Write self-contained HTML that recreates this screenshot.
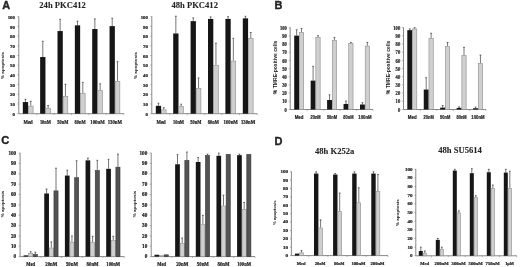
<!DOCTYPE html>
<html><head><meta charset="utf-8"><title>Figure</title>
<style>
html,body{margin:0;padding:0;background:#fff;}
body{width:520px;height:267px;overflow:hidden;font-family:"Liberation Sans",sans-serif;}
svg{display:block;}
</style></head><body>
<svg width="520" height="267" viewBox="0 0 520 267"><defs><filter id="bl" x="0" y="0" width="520" height="267" filterUnits="userSpaceOnUse"><feGaussianBlur stdDeviation="0.35"/></filter></defs><rect width="520" height="267" fill="#fff"/><g filter="url(#bl)"><rect width="520" height="267" fill="#fff"/><line x1="18.8" y1="16.4" x2="18.8" y2="113.7" stroke="#7a7a7a" stroke-width="0.9"/>
<line x1="17.4" y1="113.7" x2="18.8" y2="113.7" stroke="#7a7a7a" stroke-width="0.6"/>
<text x="14.9" y="115.83" font-size="4.8" text-anchor="end" font-weight="bold" font-family="Liberation Serif" fill="#222"  stroke="#222" stroke-width="0.22">0</text>
<line x1="17.4" y1="104" x2="18.8" y2="104" stroke="#7a7a7a" stroke-width="0.6"/>
<text x="14.9" y="106.13" font-size="4.8" text-anchor="end" font-weight="bold" font-family="Liberation Serif" fill="#222"  stroke="#222" stroke-width="0.22">10</text>
<line x1="17.4" y1="94.3" x2="18.8" y2="94.3" stroke="#7a7a7a" stroke-width="0.6"/>
<text x="14.9" y="96.43" font-size="4.8" text-anchor="end" font-weight="bold" font-family="Liberation Serif" fill="#222"  stroke="#222" stroke-width="0.22">20</text>
<line x1="17.4" y1="84.6" x2="18.8" y2="84.6" stroke="#7a7a7a" stroke-width="0.6"/>
<text x="14.9" y="86.73" font-size="4.8" text-anchor="end" font-weight="bold" font-family="Liberation Serif" fill="#222"  stroke="#222" stroke-width="0.22">30</text>
<line x1="17.4" y1="74.9" x2="18.8" y2="74.9" stroke="#7a7a7a" stroke-width="0.6"/>
<text x="14.9" y="77.03" font-size="4.8" text-anchor="end" font-weight="bold" font-family="Liberation Serif" fill="#222"  stroke="#222" stroke-width="0.22">40</text>
<line x1="17.4" y1="65.2" x2="18.8" y2="65.2" stroke="#7a7a7a" stroke-width="0.6"/>
<text x="14.9" y="67.33" font-size="4.8" text-anchor="end" font-weight="bold" font-family="Liberation Serif" fill="#222"  stroke="#222" stroke-width="0.22">50</text>
<line x1="17.4" y1="55.5" x2="18.8" y2="55.5" stroke="#7a7a7a" stroke-width="0.6"/>
<text x="14.9" y="57.63" font-size="4.8" text-anchor="end" font-weight="bold" font-family="Liberation Serif" fill="#222"  stroke="#222" stroke-width="0.22">60</text>
<line x1="17.4" y1="45.8" x2="18.8" y2="45.8" stroke="#7a7a7a" stroke-width="0.6"/>
<text x="14.9" y="47.93" font-size="4.8" text-anchor="end" font-weight="bold" font-family="Liberation Serif" fill="#222"  stroke="#222" stroke-width="0.22">70</text>
<line x1="17.4" y1="36.1" x2="18.8" y2="36.1" stroke="#7a7a7a" stroke-width="0.6"/>
<text x="14.9" y="38.23" font-size="4.8" text-anchor="end" font-weight="bold" font-family="Liberation Serif" fill="#222"  stroke="#222" stroke-width="0.22">80</text>
<line x1="17.4" y1="26.4" x2="18.8" y2="26.4" stroke="#7a7a7a" stroke-width="0.6"/>
<text x="14.9" y="28.53" font-size="4.8" text-anchor="end" font-weight="bold" font-family="Liberation Serif" fill="#222"  stroke="#222" stroke-width="0.22">90</text>
<line x1="17.4" y1="16.7" x2="18.8" y2="16.7" stroke="#7a7a7a" stroke-width="0.6"/>
<text x="14.9" y="18.83" font-size="4.8" text-anchor="end" font-weight="bold" font-family="Liberation Serif" fill="#222"  stroke="#222" stroke-width="0.22">100</text>
<line x1="18.8" y1="113.7" x2="123.9" y2="113.7" stroke="#7a7a7a" stroke-width="0.9"/>
<line x1="25.45" y1="99.34" x2="25.45" y2="102.06" stroke="#4a4a4a" stroke-width="0.75"/>
<line x1="24.55" y1="99.34" x2="26.35" y2="99.34" stroke="#333" stroke-width="0.7"/>
<rect x="22.8" y="102.06" width="5.3" height="11.64" fill="#141414"/>
<line x1="30.75" y1="101.28" x2="30.75" y2="105.84" stroke="#4a4a4a" stroke-width="0.75"/>
<line x1="29.85" y1="101.28" x2="31.65" y2="101.28" stroke="#333" stroke-width="0.7"/>
<rect x="28.4" y="106.14" width="4.7" height="7.56" fill="#cfcfcf" stroke="#8c8c8c" stroke-width="0.6"/>
<line x1="42.8" y1="41.34" x2="42.8" y2="57.05" stroke="#4a4a4a" stroke-width="0.75"/>
<line x1="41.9" y1="41.34" x2="43.7" y2="41.34" stroke="#333" stroke-width="0.7"/>
<rect x="40.15" y="57.05" width="5.3" height="56.65" fill="#141414"/>
<line x1="48.1" y1="105.55" x2="48.1" y2="108.07" stroke="#4a4a4a" stroke-width="0.75"/>
<line x1="47.2" y1="105.55" x2="49" y2="105.55" stroke="#333" stroke-width="0.7"/>
<rect x="45.75" y="108.37" width="4.7" height="5.33" fill="#cfcfcf" stroke="#8c8c8c" stroke-width="0.6"/>
<line x1="60.15" y1="19.32" x2="60.15" y2="31.06" stroke="#4a4a4a" stroke-width="0.75"/>
<line x1="59.25" y1="19.32" x2="61.05" y2="19.32" stroke="#333" stroke-width="0.7"/>
<rect x="57.5" y="31.06" width="5.3" height="82.64" fill="#141414"/>
<line x1="65.45" y1="84.21" x2="65.45" y2="96.05" stroke="#4a4a4a" stroke-width="0.75"/>
<line x1="64.55" y1="84.21" x2="66.35" y2="84.21" stroke="#333" stroke-width="0.7"/>
<rect x="63.1" y="96.35" width="4.7" height="17.35" fill="#cfcfcf" stroke="#8c8c8c" stroke-width="0.6"/>
<line x1="77.5" y1="21.16" x2="77.5" y2="25.33" stroke="#4a4a4a" stroke-width="0.75"/>
<line x1="76.6" y1="21.16" x2="78.4" y2="21.16" stroke="#333" stroke-width="0.7"/>
<rect x="74.85" y="25.33" width="5.3" height="88.37" fill="#141414"/>
<line x1="82.8" y1="82.37" x2="82.8" y2="92.94" stroke="#4a4a4a" stroke-width="0.75"/>
<line x1="81.9" y1="82.37" x2="83.7" y2="82.37" stroke="#333" stroke-width="0.7"/>
<rect x="80.45" y="93.24" width="4.7" height="20.46" fill="#cfcfcf" stroke="#8c8c8c" stroke-width="0.6"/>
<line x1="94.85" y1="18.93" x2="94.85" y2="29.02" stroke="#4a4a4a" stroke-width="0.75"/>
<line x1="93.95" y1="18.93" x2="95.75" y2="18.93" stroke="#333" stroke-width="0.7"/>
<rect x="92.2" y="29.02" width="5.3" height="84.68" fill="#141414"/>
<line x1="100.15" y1="83.82" x2="100.15" y2="90.03" stroke="#4a4a4a" stroke-width="0.75"/>
<line x1="99.25" y1="83.82" x2="101.05" y2="83.82" stroke="#333" stroke-width="0.7"/>
<rect x="97.8" y="90.33" width="4.7" height="23.37" fill="#cfcfcf" stroke="#8c8c8c" stroke-width="0.6"/>
<line x1="112.2" y1="18.25" x2="112.2" y2="26.11" stroke="#4a4a4a" stroke-width="0.75"/>
<line x1="111.3" y1="18.25" x2="113.1" y2="18.25" stroke="#333" stroke-width="0.7"/>
<rect x="109.55" y="26.11" width="5.3" height="87.59" fill="#141414"/>
<line x1="117.5" y1="61.71" x2="117.5" y2="81.01" stroke="#4a4a4a" stroke-width="0.75"/>
<line x1="116.6" y1="61.71" x2="118.4" y2="61.71" stroke="#333" stroke-width="0.7"/>
<rect x="115.15" y="81.31" width="4.7" height="32.39" fill="#cfcfcf" stroke="#8c8c8c" stroke-width="0.6"/>
<line x1="36.77" y1="113.7" x2="36.77" y2="115.2" stroke="#7a7a7a" stroke-width="0.5"/>
<line x1="54.13" y1="113.7" x2="54.13" y2="115.2" stroke="#7a7a7a" stroke-width="0.5"/>
<line x1="71.47" y1="113.7" x2="71.47" y2="115.2" stroke="#7a7a7a" stroke-width="0.5"/>
<line x1="88.83" y1="113.7" x2="88.83" y2="115.2" stroke="#7a7a7a" stroke-width="0.5"/>
<line x1="106.17" y1="113.7" x2="106.17" y2="115.2" stroke="#7a7a7a" stroke-width="0.5"/>
<line x1="123.9" y1="113.7" x2="123.9" y2="115.2" stroke="#7a7a7a" stroke-width="0.5"/>
<text x="28.1" y="123.5" font-size="5.6" text-anchor="middle" font-weight="bold" font-family="Liberation Serif" fill="#222"  textLength="9.2" lengthAdjust="spacingAndGlyphs" stroke="#222" stroke-width="0.22">Med</text>
<text x="45.45" y="123.5" font-size="5.6" text-anchor="middle" font-weight="bold" font-family="Liberation Serif" fill="#222"  textLength="11.1" lengthAdjust="spacingAndGlyphs" stroke="#222" stroke-width="0.22">10nM</text>
<text x="62.8" y="123.5" font-size="5.6" text-anchor="middle" font-weight="bold" font-family="Liberation Serif" fill="#222"  textLength="11.1" lengthAdjust="spacingAndGlyphs" stroke="#222" stroke-width="0.22">50nM</text>
<text x="80.15" y="123.5" font-size="5.6" text-anchor="middle" font-weight="bold" font-family="Liberation Serif" fill="#222"  textLength="11.1" lengthAdjust="spacingAndGlyphs" stroke="#222" stroke-width="0.22">80nM</text>
<text x="97.5" y="123.5" font-size="5.6" text-anchor="middle" font-weight="bold" font-family="Liberation Serif" fill="#222"  textLength="14.4" lengthAdjust="spacingAndGlyphs" stroke="#222" stroke-width="0.22">100nM</text>
<text x="114.85" y="123.5" font-size="5.6" text-anchor="middle" font-weight="bold" font-family="Liberation Serif" fill="#222"  textLength="14.4" lengthAdjust="spacingAndGlyphs" stroke="#222" stroke-width="0.22">130nM</text>
<text x="0" y="0" font-size="4.4" text-anchor="middle" font-weight="bold" font-family="Liberation Sans" fill="#1a1a1a" textLength="27" lengthAdjust="spacingAndGlyphs" transform="translate(4.2,65.5) rotate(-90)">% apoptosis</text>
<line x1="151.8" y1="16.4" x2="151.8" y2="113.7" stroke="#7a7a7a" stroke-width="0.9"/>
<line x1="150.4" y1="113.7" x2="151.8" y2="113.7" stroke="#7a7a7a" stroke-width="0.6"/>
<text x="147.9" y="115.83" font-size="4.8" text-anchor="end" font-weight="bold" font-family="Liberation Serif" fill="#222"  stroke="#222" stroke-width="0.22">0</text>
<line x1="150.4" y1="104" x2="151.8" y2="104" stroke="#7a7a7a" stroke-width="0.6"/>
<text x="147.9" y="106.13" font-size="4.8" text-anchor="end" font-weight="bold" font-family="Liberation Serif" fill="#222"  stroke="#222" stroke-width="0.22">10</text>
<line x1="150.4" y1="94.3" x2="151.8" y2="94.3" stroke="#7a7a7a" stroke-width="0.6"/>
<text x="147.9" y="96.43" font-size="4.8" text-anchor="end" font-weight="bold" font-family="Liberation Serif" fill="#222"  stroke="#222" stroke-width="0.22">20</text>
<line x1="150.4" y1="84.6" x2="151.8" y2="84.6" stroke="#7a7a7a" stroke-width="0.6"/>
<text x="147.9" y="86.73" font-size="4.8" text-anchor="end" font-weight="bold" font-family="Liberation Serif" fill="#222"  stroke="#222" stroke-width="0.22">30</text>
<line x1="150.4" y1="74.9" x2="151.8" y2="74.9" stroke="#7a7a7a" stroke-width="0.6"/>
<text x="147.9" y="77.03" font-size="4.8" text-anchor="end" font-weight="bold" font-family="Liberation Serif" fill="#222"  stroke="#222" stroke-width="0.22">40</text>
<line x1="150.4" y1="65.2" x2="151.8" y2="65.2" stroke="#7a7a7a" stroke-width="0.6"/>
<text x="147.9" y="67.33" font-size="4.8" text-anchor="end" font-weight="bold" font-family="Liberation Serif" fill="#222"  stroke="#222" stroke-width="0.22">50</text>
<line x1="150.4" y1="55.5" x2="151.8" y2="55.5" stroke="#7a7a7a" stroke-width="0.6"/>
<text x="147.9" y="57.63" font-size="4.8" text-anchor="end" font-weight="bold" font-family="Liberation Serif" fill="#222"  stroke="#222" stroke-width="0.22">60</text>
<line x1="150.4" y1="45.8" x2="151.8" y2="45.8" stroke="#7a7a7a" stroke-width="0.6"/>
<text x="147.9" y="47.93" font-size="4.8" text-anchor="end" font-weight="bold" font-family="Liberation Serif" fill="#222"  stroke="#222" stroke-width="0.22">70</text>
<line x1="150.4" y1="36.1" x2="151.8" y2="36.1" stroke="#7a7a7a" stroke-width="0.6"/>
<text x="147.9" y="38.23" font-size="4.8" text-anchor="end" font-weight="bold" font-family="Liberation Serif" fill="#222"  stroke="#222" stroke-width="0.22">80</text>
<line x1="150.4" y1="26.4" x2="151.8" y2="26.4" stroke="#7a7a7a" stroke-width="0.6"/>
<text x="147.9" y="28.53" font-size="4.8" text-anchor="end" font-weight="bold" font-family="Liberation Serif" fill="#222"  stroke="#222" stroke-width="0.22">90</text>
<line x1="150.4" y1="16.7" x2="151.8" y2="16.7" stroke="#7a7a7a" stroke-width="0.6"/>
<text x="147.9" y="18.83" font-size="4.8" text-anchor="end" font-weight="bold" font-family="Liberation Serif" fill="#222"  stroke="#222" stroke-width="0.22">100</text>
<line x1="151.8" y1="113.7" x2="257.3" y2="113.7" stroke="#7a7a7a" stroke-width="0.9"/>
<line x1="158.45" y1="103.22" x2="158.45" y2="105.84" stroke="#4a4a4a" stroke-width="0.75"/>
<line x1="157.55" y1="103.22" x2="159.35" y2="103.22" stroke="#333" stroke-width="0.7"/>
<rect x="155.8" y="105.84" width="5.3" height="7.86" fill="#141414"/>
<line x1="163.75" y1="107.69" x2="163.75" y2="109.53" stroke="#4a4a4a" stroke-width="0.75"/>
<line x1="162.85" y1="107.69" x2="164.65" y2="107.69" stroke="#333" stroke-width="0.7"/>
<rect x="161.4" y="109.83" width="4.7" height="3.87" fill="#cfcfcf" stroke="#8c8c8c" stroke-width="0.6"/>
<line x1="175.85" y1="16.22" x2="175.85" y2="33.48" stroke="#4a4a4a" stroke-width="0.75"/>
<line x1="174.95" y1="16.22" x2="176.75" y2="16.22" stroke="#333" stroke-width="0.7"/>
<rect x="173.2" y="33.48" width="5.3" height="80.22" fill="#141414"/>
<line x1="181.15" y1="104.19" x2="181.15" y2="106.23" stroke="#4a4a4a" stroke-width="0.75"/>
<line x1="180.25" y1="104.19" x2="182.05" y2="104.19" stroke="#333" stroke-width="0.7"/>
<rect x="178.8" y="106.53" width="4.7" height="7.17" fill="#cfcfcf" stroke="#8c8c8c" stroke-width="0.6"/>
<line x1="193.25" y1="17.86" x2="193.25" y2="21.16" stroke="#4a4a4a" stroke-width="0.75"/>
<line x1="192.35" y1="17.86" x2="194.15" y2="17.86" stroke="#333" stroke-width="0.7"/>
<rect x="190.6" y="21.16" width="5.3" height="92.54" fill="#141414"/>
<line x1="198.55" y1="77.91" x2="198.55" y2="88.19" stroke="#4a4a4a" stroke-width="0.75"/>
<line x1="197.65" y1="77.91" x2="199.45" y2="77.91" stroke="#333" stroke-width="0.7"/>
<rect x="196.2" y="88.49" width="4.7" height="25.21" fill="#cfcfcf" stroke="#8c8c8c" stroke-width="0.6"/>
<line x1="210.65" y1="16.89" x2="210.65" y2="18.93" stroke="#4a4a4a" stroke-width="0.75"/>
<line x1="209.75" y1="16.89" x2="211.55" y2="16.89" stroke="#333" stroke-width="0.7"/>
<rect x="208" y="18.93" width="5.3" height="94.77" fill="#141414"/>
<line x1="215.95" y1="43.18" x2="215.95" y2="65.2" stroke="#4a4a4a" stroke-width="0.75"/>
<line x1="215.05" y1="43.18" x2="216.85" y2="43.18" stroke="#333" stroke-width="0.7"/>
<rect x="213.6" y="65.5" width="4.7" height="48.2" fill="#cfcfcf" stroke="#8c8c8c" stroke-width="0.6"/>
<line x1="228.05" y1="16.7" x2="228.05" y2="18.93" stroke="#4a4a4a" stroke-width="0.75"/>
<line x1="227.15" y1="16.7" x2="228.95" y2="16.7" stroke="#333" stroke-width="0.7"/>
<rect x="225.4" y="18.93" width="5.3" height="94.77" fill="#141414"/>
<line x1="233.35" y1="38.33" x2="233.35" y2="60.74" stroke="#4a4a4a" stroke-width="0.75"/>
<line x1="232.45" y1="38.33" x2="234.25" y2="38.33" stroke="#333" stroke-width="0.7"/>
<rect x="231" y="61.04" width="4.7" height="52.66" fill="#cfcfcf" stroke="#8c8c8c" stroke-width="0.6"/>
<line x1="245.45" y1="16.31" x2="245.45" y2="18.35" stroke="#4a4a4a" stroke-width="0.75"/>
<line x1="244.55" y1="16.31" x2="246.35" y2="16.31" stroke="#333" stroke-width="0.7"/>
<rect x="242.8" y="18.35" width="5.3" height="95.35" fill="#141414"/>
<line x1="250.75" y1="32.51" x2="250.75" y2="38.33" stroke="#4a4a4a" stroke-width="0.75"/>
<line x1="249.85" y1="32.51" x2="251.65" y2="32.51" stroke="#333" stroke-width="0.7"/>
<rect x="248.4" y="38.63" width="4.7" height="75.07" fill="#cfcfcf" stroke="#8c8c8c" stroke-width="0.6"/>
<line x1="169.8" y1="113.7" x2="169.8" y2="115.2" stroke="#7a7a7a" stroke-width="0.5"/>
<line x1="187.2" y1="113.7" x2="187.2" y2="115.2" stroke="#7a7a7a" stroke-width="0.5"/>
<line x1="204.6" y1="113.7" x2="204.6" y2="115.2" stroke="#7a7a7a" stroke-width="0.5"/>
<line x1="222" y1="113.7" x2="222" y2="115.2" stroke="#7a7a7a" stroke-width="0.5"/>
<line x1="239.4" y1="113.7" x2="239.4" y2="115.2" stroke="#7a7a7a" stroke-width="0.5"/>
<line x1="257.3" y1="113.7" x2="257.3" y2="115.2" stroke="#7a7a7a" stroke-width="0.5"/>
<text x="161.1" y="123.5" font-size="5.6" text-anchor="middle" font-weight="bold" font-family="Liberation Serif" fill="#222"  textLength="9.2" lengthAdjust="spacingAndGlyphs" stroke="#222" stroke-width="0.22">Med</text>
<text x="178.5" y="123.5" font-size="5.6" text-anchor="middle" font-weight="bold" font-family="Liberation Serif" fill="#222"  textLength="11.1" lengthAdjust="spacingAndGlyphs" stroke="#222" stroke-width="0.22">10nM</text>
<text x="195.9" y="123.5" font-size="5.6" text-anchor="middle" font-weight="bold" font-family="Liberation Serif" fill="#222"  textLength="11.1" lengthAdjust="spacingAndGlyphs" stroke="#222" stroke-width="0.22">50nM</text>
<text x="213.3" y="123.5" font-size="5.6" text-anchor="middle" font-weight="bold" font-family="Liberation Serif" fill="#222"  textLength="11.1" lengthAdjust="spacingAndGlyphs" stroke="#222" stroke-width="0.22">80nM</text>
<text x="230.7" y="123.5" font-size="5.6" text-anchor="middle" font-weight="bold" font-family="Liberation Serif" fill="#222"  textLength="14.4" lengthAdjust="spacingAndGlyphs" stroke="#222" stroke-width="0.22">100nM</text>
<text x="248.1" y="123.5" font-size="5.6" text-anchor="middle" font-weight="bold" font-family="Liberation Serif" fill="#222"  textLength="14.4" lengthAdjust="spacingAndGlyphs" stroke="#222" stroke-width="0.22">130nM</text>
<text x="0" y="0" font-size="4.4" text-anchor="middle" font-weight="bold" font-family="Liberation Sans" fill="#1a1a1a" textLength="27" lengthAdjust="spacingAndGlyphs" transform="translate(137,65.5) rotate(-90)">% apoptosis</text>
<line x1="290.2" y1="27.4" x2="290.2" y2="109.5" stroke="#7a7a7a" stroke-width="0.9"/>
<line x1="288.8" y1="109.5" x2="290.2" y2="109.5" stroke="#7a7a7a" stroke-width="0.6"/>
<g transform="translate(286.9,111.6) scale(0.82,1)">
<text x="0" y="0" font-size="5.6" text-anchor="end" font-weight="bold" font-family="Liberation Serif" fill="#222"  stroke="#222" stroke-width="0.22">0</text>
</g>
<line x1="288.8" y1="101.32" x2="290.2" y2="101.32" stroke="#7a7a7a" stroke-width="0.6"/>
<g transform="translate(286.9,103.42) scale(0.82,1)">
<text x="0" y="0" font-size="5.6" text-anchor="end" font-weight="bold" font-family="Liberation Serif" fill="#222"  stroke="#222" stroke-width="0.22">10</text>
</g>
<line x1="288.8" y1="93.14" x2="290.2" y2="93.14" stroke="#7a7a7a" stroke-width="0.6"/>
<g transform="translate(286.9,95.24) scale(0.82,1)">
<text x="0" y="0" font-size="5.6" text-anchor="end" font-weight="bold" font-family="Liberation Serif" fill="#222"  stroke="#222" stroke-width="0.22">20</text>
</g>
<line x1="288.8" y1="84.96" x2="290.2" y2="84.96" stroke="#7a7a7a" stroke-width="0.6"/>
<g transform="translate(286.9,87.06) scale(0.82,1)">
<text x="0" y="0" font-size="5.6" text-anchor="end" font-weight="bold" font-family="Liberation Serif" fill="#222"  stroke="#222" stroke-width="0.22">30</text>
</g>
<line x1="288.8" y1="76.78" x2="290.2" y2="76.78" stroke="#7a7a7a" stroke-width="0.6"/>
<g transform="translate(286.9,78.88) scale(0.82,1)">
<text x="0" y="0" font-size="5.6" text-anchor="end" font-weight="bold" font-family="Liberation Serif" fill="#222"  stroke="#222" stroke-width="0.22">40</text>
</g>
<line x1="288.8" y1="68.6" x2="290.2" y2="68.6" stroke="#7a7a7a" stroke-width="0.6"/>
<g transform="translate(286.9,70.7) scale(0.82,1)">
<text x="0" y="0" font-size="5.6" text-anchor="end" font-weight="bold" font-family="Liberation Serif" fill="#222"  stroke="#222" stroke-width="0.22">50</text>
</g>
<line x1="288.8" y1="60.42" x2="290.2" y2="60.42" stroke="#7a7a7a" stroke-width="0.6"/>
<g transform="translate(286.9,62.52) scale(0.82,1)">
<text x="0" y="0" font-size="5.6" text-anchor="end" font-weight="bold" font-family="Liberation Serif" fill="#222"  stroke="#222" stroke-width="0.22">60</text>
</g>
<line x1="288.8" y1="52.24" x2="290.2" y2="52.24" stroke="#7a7a7a" stroke-width="0.6"/>
<g transform="translate(286.9,54.34) scale(0.82,1)">
<text x="0" y="0" font-size="5.6" text-anchor="end" font-weight="bold" font-family="Liberation Serif" fill="#222"  stroke="#222" stroke-width="0.22">70</text>
</g>
<line x1="288.8" y1="44.06" x2="290.2" y2="44.06" stroke="#7a7a7a" stroke-width="0.6"/>
<g transform="translate(286.9,46.16) scale(0.82,1)">
<text x="0" y="0" font-size="5.6" text-anchor="end" font-weight="bold" font-family="Liberation Serif" fill="#222"  stroke="#222" stroke-width="0.22">80</text>
</g>
<line x1="288.8" y1="35.88" x2="290.2" y2="35.88" stroke="#7a7a7a" stroke-width="0.6"/>
<g transform="translate(286.9,37.98) scale(0.82,1)">
<text x="0" y="0" font-size="5.6" text-anchor="end" font-weight="bold" font-family="Liberation Serif" fill="#222"  stroke="#222" stroke-width="0.22">90</text>
</g>
<line x1="288.8" y1="27.7" x2="290.2" y2="27.7" stroke="#7a7a7a" stroke-width="0.6"/>
<g transform="translate(286.9,29.8) scale(0.82,1)">
<text x="0" y="0" font-size="5.6" text-anchor="end" font-weight="bold" font-family="Liberation Serif" fill="#222"  stroke="#222" stroke-width="0.22">100</text>
</g>
<line x1="290.2" y1="109.5" x2="373" y2="109.5" stroke="#7a7a7a" stroke-width="0.9"/>
<line x1="296.65" y1="29.83" x2="296.65" y2="35.63" stroke="#4a4a4a" stroke-width="0.75"/>
<line x1="295.75" y1="29.83" x2="297.55" y2="29.83" stroke="#333" stroke-width="0.7"/>
<rect x="294.2" y="35.63" width="4.9" height="73.87" fill="#141414"/>
<line x1="301.55" y1="28.52" x2="301.55" y2="32.12" stroke="#4a4a4a" stroke-width="0.75"/>
<line x1="300.65" y1="28.52" x2="302.45" y2="28.52" stroke="#333" stroke-width="0.7"/>
<rect x="299.4" y="32.42" width="4.3" height="77.08" fill="#cfcfcf" stroke="#8c8c8c" stroke-width="0.6"/>
<line x1="313.1" y1="66.31" x2="313.1" y2="80.62" stroke="#4a4a4a" stroke-width="0.75"/>
<line x1="312.2" y1="66.31" x2="314" y2="66.31" stroke="#333" stroke-width="0.7"/>
<rect x="310.65" y="80.62" width="4.9" height="28.88" fill="#141414"/>
<line x1="318" y1="35.63" x2="318" y2="37.19" stroke="#4a4a4a" stroke-width="0.75"/>
<line x1="317.1" y1="35.63" x2="318.9" y2="35.63" stroke="#333" stroke-width="0.7"/>
<rect x="315.85" y="37.49" width="4.3" height="72.01" fill="#cfcfcf" stroke="#8c8c8c" stroke-width="0.6"/>
<line x1="329.55" y1="94.78" x2="329.55" y2="100.01" stroke="#4a4a4a" stroke-width="0.75"/>
<line x1="328.65" y1="94.78" x2="330.45" y2="94.78" stroke="#333" stroke-width="0.7"/>
<rect x="327.1" y="100.01" width="4.9" height="9.49" fill="#141414"/>
<line x1="334.45" y1="37.6" x2="334.45" y2="40.13" stroke="#4a4a4a" stroke-width="0.75"/>
<line x1="333.55" y1="37.6" x2="335.35" y2="37.6" stroke="#333" stroke-width="0.7"/>
<rect x="332.3" y="40.43" width="4.3" height="69.07" fill="#cfcfcf" stroke="#8c8c8c" stroke-width="0.6"/>
<line x1="346" y1="100.99" x2="346" y2="103.94" stroke="#4a4a4a" stroke-width="0.75"/>
<line x1="345.1" y1="100.99" x2="346.9" y2="100.99" stroke="#333" stroke-width="0.7"/>
<rect x="343.55" y="103.94" width="4.9" height="5.56" fill="#141414"/>
<line x1="350.9" y1="42.42" x2="350.9" y2="43" stroke="#4a4a4a" stroke-width="0.75"/>
<line x1="350" y1="42.42" x2="351.8" y2="42.42" stroke="#333" stroke-width="0.7"/>
<rect x="348.75" y="43.3" width="4.3" height="66.2" fill="#cfcfcf" stroke="#8c8c8c" stroke-width="0.6"/>
<line x1="362.45" y1="102.63" x2="362.45" y2="104.51" stroke="#4a4a4a" stroke-width="0.75"/>
<line x1="361.55" y1="102.63" x2="363.35" y2="102.63" stroke="#333" stroke-width="0.7"/>
<rect x="360" y="104.51" width="4.9" height="4.99" fill="#141414"/>
<line x1="367.35" y1="42.42" x2="367.35" y2="45.78" stroke="#4a4a4a" stroke-width="0.75"/>
<line x1="366.45" y1="42.42" x2="368.25" y2="42.42" stroke="#333" stroke-width="0.7"/>
<rect x="365.2" y="46.08" width="4.3" height="63.42" fill="#cfcfcf" stroke="#8c8c8c" stroke-width="0.6"/>
<line x1="307.32" y1="109.5" x2="307.32" y2="111" stroke="#7a7a7a" stroke-width="0.5"/>
<line x1="323.77" y1="109.5" x2="323.77" y2="111" stroke="#7a7a7a" stroke-width="0.5"/>
<line x1="340.22" y1="109.5" x2="340.22" y2="111" stroke="#7a7a7a" stroke-width="0.5"/>
<line x1="356.67" y1="109.5" x2="356.67" y2="111" stroke="#7a7a7a" stroke-width="0.5"/>
<line x1="373" y1="109.5" x2="373" y2="111" stroke="#7a7a7a" stroke-width="0.5"/>
<text x="299.1" y="118.7" font-size="5.4" text-anchor="middle" font-weight="bold" font-family="Liberation Sans" fill="#222"  textLength="8.8" lengthAdjust="spacingAndGlyphs" stroke="#222" stroke-width="0.22">Med</text>
<text x="315.55" y="118.7" font-size="5.4" text-anchor="middle" font-weight="bold" font-family="Liberation Sans" fill="#222"  textLength="10.2" lengthAdjust="spacingAndGlyphs" stroke="#222" stroke-width="0.22">20nM</text>
<text x="332" y="118.7" font-size="5.4" text-anchor="middle" font-weight="bold" font-family="Liberation Sans" fill="#222"  textLength="10.2" lengthAdjust="spacingAndGlyphs" stroke="#222" stroke-width="0.22">50nM</text>
<text x="348.45" y="118.7" font-size="5.4" text-anchor="middle" font-weight="bold" font-family="Liberation Sans" fill="#222"  textLength="10.2" lengthAdjust="spacingAndGlyphs" stroke="#222" stroke-width="0.22">80nM</text>
<text x="364.9" y="118.7" font-size="5.4" text-anchor="middle" font-weight="bold" font-family="Liberation Sans" fill="#222"  textLength="13.3" lengthAdjust="spacingAndGlyphs" stroke="#222" stroke-width="0.22">100nM</text>
<text x="0" y="0" font-size="4.6" text-anchor="middle" font-weight="bold" font-family="Liberation Sans" fill="#1a1a1a" textLength="53.5" lengthAdjust="spacingAndGlyphs" transform="translate(276.6,67.4) rotate(-90)">% TMRE-positive cells</text>
<line x1="403.5" y1="27.4" x2="403.5" y2="109.5" stroke="#7a7a7a" stroke-width="0.9"/>
<line x1="402.1" y1="109.5" x2="403.5" y2="109.5" stroke="#7a7a7a" stroke-width="0.6"/>
<g transform="translate(400.2,111.6) scale(0.82,1)">
<text x="0" y="0" font-size="5.6" text-anchor="end" font-weight="bold" font-family="Liberation Serif" fill="#222"  stroke="#222" stroke-width="0.22">0</text>
</g>
<line x1="402.1" y1="101.32" x2="403.5" y2="101.32" stroke="#7a7a7a" stroke-width="0.6"/>
<g transform="translate(400.2,103.42) scale(0.82,1)">
<text x="0" y="0" font-size="5.6" text-anchor="end" font-weight="bold" font-family="Liberation Serif" fill="#222"  stroke="#222" stroke-width="0.22">10</text>
</g>
<line x1="402.1" y1="93.14" x2="403.5" y2="93.14" stroke="#7a7a7a" stroke-width="0.6"/>
<g transform="translate(400.2,95.24) scale(0.82,1)">
<text x="0" y="0" font-size="5.6" text-anchor="end" font-weight="bold" font-family="Liberation Serif" fill="#222"  stroke="#222" stroke-width="0.22">20</text>
</g>
<line x1="402.1" y1="84.96" x2="403.5" y2="84.96" stroke="#7a7a7a" stroke-width="0.6"/>
<g transform="translate(400.2,87.06) scale(0.82,1)">
<text x="0" y="0" font-size="5.6" text-anchor="end" font-weight="bold" font-family="Liberation Serif" fill="#222"  stroke="#222" stroke-width="0.22">30</text>
</g>
<line x1="402.1" y1="76.78" x2="403.5" y2="76.78" stroke="#7a7a7a" stroke-width="0.6"/>
<g transform="translate(400.2,78.88) scale(0.82,1)">
<text x="0" y="0" font-size="5.6" text-anchor="end" font-weight="bold" font-family="Liberation Serif" fill="#222"  stroke="#222" stroke-width="0.22">40</text>
</g>
<line x1="402.1" y1="68.6" x2="403.5" y2="68.6" stroke="#7a7a7a" stroke-width="0.6"/>
<g transform="translate(400.2,70.7) scale(0.82,1)">
<text x="0" y="0" font-size="5.6" text-anchor="end" font-weight="bold" font-family="Liberation Serif" fill="#222"  stroke="#222" stroke-width="0.22">50</text>
</g>
<line x1="402.1" y1="60.42" x2="403.5" y2="60.42" stroke="#7a7a7a" stroke-width="0.6"/>
<g transform="translate(400.2,62.52) scale(0.82,1)">
<text x="0" y="0" font-size="5.6" text-anchor="end" font-weight="bold" font-family="Liberation Serif" fill="#222"  stroke="#222" stroke-width="0.22">60</text>
</g>
<line x1="402.1" y1="52.24" x2="403.5" y2="52.24" stroke="#7a7a7a" stroke-width="0.6"/>
<g transform="translate(400.2,54.34) scale(0.82,1)">
<text x="0" y="0" font-size="5.6" text-anchor="end" font-weight="bold" font-family="Liberation Serif" fill="#222"  stroke="#222" stroke-width="0.22">70</text>
</g>
<line x1="402.1" y1="44.06" x2="403.5" y2="44.06" stroke="#7a7a7a" stroke-width="0.6"/>
<g transform="translate(400.2,46.16) scale(0.82,1)">
<text x="0" y="0" font-size="5.6" text-anchor="end" font-weight="bold" font-family="Liberation Serif" fill="#222"  stroke="#222" stroke-width="0.22">80</text>
</g>
<line x1="402.1" y1="35.88" x2="403.5" y2="35.88" stroke="#7a7a7a" stroke-width="0.6"/>
<g transform="translate(400.2,37.98) scale(0.82,1)">
<text x="0" y="0" font-size="5.6" text-anchor="end" font-weight="bold" font-family="Liberation Serif" fill="#222"  stroke="#222" stroke-width="0.22">90</text>
</g>
<line x1="402.1" y1="27.7" x2="403.5" y2="27.7" stroke="#7a7a7a" stroke-width="0.6"/>
<g transform="translate(400.2,29.8) scale(0.82,1)">
<text x="0" y="0" font-size="5.6" text-anchor="end" font-weight="bold" font-family="Liberation Serif" fill="#222"  stroke="#222" stroke-width="0.22">100</text>
</g>
<line x1="403.5" y1="109.5" x2="486" y2="109.5" stroke="#7a7a7a" stroke-width="0.9"/>
<line x1="409.75" y1="28.93" x2="409.75" y2="30.15" stroke="#4a4a4a" stroke-width="0.75"/>
<line x1="408.85" y1="28.93" x2="410.65" y2="28.93" stroke="#333" stroke-width="0.7"/>
<rect x="407.3" y="30.15" width="4.9" height="79.35" fill="#141414"/>
<line x1="414.65" y1="27.7" x2="414.65" y2="28.6" stroke="#4a4a4a" stroke-width="0.75"/>
<line x1="413.75" y1="27.7" x2="415.55" y2="27.7" stroke="#333" stroke-width="0.7"/>
<rect x="412.5" y="28.9" width="4.3" height="80.6" fill="#cfcfcf" stroke="#8c8c8c" stroke-width="0.6"/>
<line x1="426.2" y1="77.76" x2="426.2" y2="89.54" stroke="#4a4a4a" stroke-width="0.75"/>
<line x1="425.3" y1="77.76" x2="427.1" y2="77.76" stroke="#333" stroke-width="0.7"/>
<rect x="423.75" y="89.54" width="4.9" height="19.96" fill="#141414"/>
<line x1="431.1" y1="33.26" x2="431.1" y2="38.01" stroke="#4a4a4a" stroke-width="0.75"/>
<line x1="430.2" y1="33.26" x2="432" y2="33.26" stroke="#333" stroke-width="0.7"/>
<rect x="428.95" y="38.31" width="4.3" height="71.19" fill="#cfcfcf" stroke="#8c8c8c" stroke-width="0.6"/>
<line x1="442.65" y1="105.57" x2="442.65" y2="107.62" stroke="#4a4a4a" stroke-width="0.75"/>
<line x1="441.75" y1="105.57" x2="443.55" y2="105.57" stroke="#333" stroke-width="0.7"/>
<rect x="440.2" y="107.62" width="4.9" height="1.88" fill="#141414"/>
<line x1="447.55" y1="42.42" x2="447.55" y2="46.27" stroke="#4a4a4a" stroke-width="0.75"/>
<line x1="446.65" y1="42.42" x2="448.45" y2="42.42" stroke="#333" stroke-width="0.7"/>
<rect x="445.4" y="46.57" width="4.3" height="62.93" fill="#cfcfcf" stroke="#8c8c8c" stroke-width="0.6"/>
<line x1="459.1" y1="106.88" x2="459.1" y2="107.86" stroke="#4a4a4a" stroke-width="0.75"/>
<line x1="458.2" y1="106.88" x2="460" y2="106.88" stroke="#333" stroke-width="0.7"/>
<rect x="456.65" y="107.86" width="4.9" height="1.64" fill="#141414"/>
<line x1="464" y1="47.33" x2="464" y2="55.1" stroke="#4a4a4a" stroke-width="0.75"/>
<line x1="463.1" y1="47.33" x2="464.9" y2="47.33" stroke="#333" stroke-width="0.7"/>
<rect x="461.85" y="55.4" width="4.3" height="54.1" fill="#cfcfcf" stroke="#8c8c8c" stroke-width="0.6"/>
<line x1="475.55" y1="107.05" x2="475.55" y2="108.27" stroke="#4a4a4a" stroke-width="0.75"/>
<line x1="474.65" y1="107.05" x2="476.45" y2="107.05" stroke="#333" stroke-width="0.7"/>
<rect x="473.1" y="108.27" width="4.9" height="1.23" fill="#141414"/>
<line x1="480.45" y1="55.1" x2="480.45" y2="63.28" stroke="#4a4a4a" stroke-width="0.75"/>
<line x1="479.55" y1="55.1" x2="481.35" y2="55.1" stroke="#333" stroke-width="0.7"/>
<rect x="478.3" y="63.58" width="4.3" height="45.92" fill="#cfcfcf" stroke="#8c8c8c" stroke-width="0.6"/>
<line x1="420.43" y1="109.5" x2="420.43" y2="111" stroke="#7a7a7a" stroke-width="0.5"/>
<line x1="436.88" y1="109.5" x2="436.88" y2="111" stroke="#7a7a7a" stroke-width="0.5"/>
<line x1="453.32" y1="109.5" x2="453.32" y2="111" stroke="#7a7a7a" stroke-width="0.5"/>
<line x1="469.77" y1="109.5" x2="469.77" y2="111" stroke="#7a7a7a" stroke-width="0.5"/>
<line x1="486" y1="109.5" x2="486" y2="111" stroke="#7a7a7a" stroke-width="0.5"/>
<text x="412.2" y="118.7" font-size="5.4" text-anchor="middle" font-weight="bold" font-family="Liberation Sans" fill="#222"  textLength="8.8" lengthAdjust="spacingAndGlyphs" stroke="#222" stroke-width="0.22">Med</text>
<text x="428.65" y="118.7" font-size="5.4" text-anchor="middle" font-weight="bold" font-family="Liberation Sans" fill="#222"  textLength="10.2" lengthAdjust="spacingAndGlyphs" stroke="#222" stroke-width="0.22">20nM</text>
<text x="445.1" y="118.7" font-size="5.4" text-anchor="middle" font-weight="bold" font-family="Liberation Sans" fill="#222"  textLength="10.2" lengthAdjust="spacingAndGlyphs" stroke="#222" stroke-width="0.22">50nM</text>
<text x="461.55" y="118.7" font-size="5.4" text-anchor="middle" font-weight="bold" font-family="Liberation Sans" fill="#222"  textLength="10.2" lengthAdjust="spacingAndGlyphs" stroke="#222" stroke-width="0.22">80nM</text>
<text x="478" y="118.7" font-size="5.4" text-anchor="middle" font-weight="bold" font-family="Liberation Sans" fill="#222"  textLength="13.3" lengthAdjust="spacingAndGlyphs" stroke="#222" stroke-width="0.22">100nM</text>
<text x="0" y="0" font-size="4.6" text-anchor="middle" font-weight="bold" font-family="Liberation Sans" fill="#1a1a1a" textLength="53.5" lengthAdjust="spacingAndGlyphs" transform="translate(390.3,67.4) rotate(-90)">% TMRE-positive cells</text>
<line x1="20.1" y1="152.8" x2="20.1" y2="256.6" stroke="#7a7a7a" stroke-width="0.9"/>
<line x1="18.7" y1="256.6" x2="20.1" y2="256.6" stroke="#7a7a7a" stroke-width="0.6"/>
<text x="16.2" y="258.27" font-size="5.2" text-anchor="end" font-weight="bold" font-family="Liberation Serif" fill="#222"  stroke="#222" stroke-width="0.22">0</text>
<line x1="18.7" y1="246.25" x2="20.1" y2="246.25" stroke="#7a7a7a" stroke-width="0.6"/>
<text x="16.2" y="247.92" font-size="5.2" text-anchor="end" font-weight="bold" font-family="Liberation Serif" fill="#222"  stroke="#222" stroke-width="0.22">10</text>
<line x1="18.7" y1="235.9" x2="20.1" y2="235.9" stroke="#7a7a7a" stroke-width="0.6"/>
<text x="16.2" y="237.57" font-size="5.2" text-anchor="end" font-weight="bold" font-family="Liberation Serif" fill="#222"  stroke="#222" stroke-width="0.22">20</text>
<line x1="18.7" y1="225.55" x2="20.1" y2="225.55" stroke="#7a7a7a" stroke-width="0.6"/>
<text x="16.2" y="227.22" font-size="5.2" text-anchor="end" font-weight="bold" font-family="Liberation Serif" fill="#222"  stroke="#222" stroke-width="0.22">30</text>
<line x1="18.7" y1="215.2" x2="20.1" y2="215.2" stroke="#7a7a7a" stroke-width="0.6"/>
<text x="16.2" y="216.87" font-size="5.2" text-anchor="end" font-weight="bold" font-family="Liberation Serif" fill="#222"  stroke="#222" stroke-width="0.22">40</text>
<line x1="18.7" y1="204.85" x2="20.1" y2="204.85" stroke="#7a7a7a" stroke-width="0.6"/>
<text x="16.2" y="206.52" font-size="5.2" text-anchor="end" font-weight="bold" font-family="Liberation Serif" fill="#222"  stroke="#222" stroke-width="0.22">50</text>
<line x1="18.7" y1="194.5" x2="20.1" y2="194.5" stroke="#7a7a7a" stroke-width="0.6"/>
<text x="16.2" y="196.17" font-size="5.2" text-anchor="end" font-weight="bold" font-family="Liberation Serif" fill="#222"  stroke="#222" stroke-width="0.22">60</text>
<line x1="18.7" y1="184.15" x2="20.1" y2="184.15" stroke="#7a7a7a" stroke-width="0.6"/>
<text x="16.2" y="185.82" font-size="5.2" text-anchor="end" font-weight="bold" font-family="Liberation Serif" fill="#222"  stroke="#222" stroke-width="0.22">70</text>
<line x1="18.7" y1="173.8" x2="20.1" y2="173.8" stroke="#7a7a7a" stroke-width="0.6"/>
<text x="16.2" y="175.47" font-size="5.2" text-anchor="end" font-weight="bold" font-family="Liberation Serif" fill="#222"  stroke="#222" stroke-width="0.22">80</text>
<line x1="18.7" y1="163.45" x2="20.1" y2="163.45" stroke="#7a7a7a" stroke-width="0.6"/>
<text x="16.2" y="165.12" font-size="5.2" text-anchor="end" font-weight="bold" font-family="Liberation Serif" fill="#222"  stroke="#222" stroke-width="0.22">90</text>
<line x1="18.7" y1="153.1" x2="20.1" y2="153.1" stroke="#7a7a7a" stroke-width="0.6"/>
<text x="16.2" y="154.77" font-size="5.2" text-anchor="end" font-weight="bold" font-family="Liberation Serif" fill="#222"  stroke="#222" stroke-width="0.22">100</text>
<line x1="20.1" y1="256.6" x2="124.3" y2="256.6" stroke="#7a7a7a" stroke-width="0.9"/>
<rect x="23.6" y="255.36" width="4.7" height="1.24" fill="#141414"/>
<line x1="30.65" y1="251.74" x2="30.65" y2="253.08" stroke="#4a4a4a" stroke-width="0.75"/>
<line x1="29.75" y1="251.74" x2="31.55" y2="251.74" stroke="#333" stroke-width="0.7"/>
<rect x="28.6" y="253.38" width="4.1" height="3.22" fill="#cfcfcf" stroke="#8c8c8c" stroke-width="0.6"/>
<line x1="35.35" y1="252.15" x2="35.35" y2="254.22" stroke="#4a4a4a" stroke-width="0.75"/>
<line x1="34.45" y1="252.15" x2="36.25" y2="252.15" stroke="#333" stroke-width="0.7"/>
<rect x="33.3" y="254.52" width="4.1" height="2.08" fill="#525252" stroke="#353535" stroke-width="0.6"/>
<line x1="46.6" y1="189.01" x2="46.6" y2="193.47" stroke="#4a4a4a" stroke-width="0.75"/>
<line x1="45.7" y1="189.01" x2="47.5" y2="189.01" stroke="#333" stroke-width="0.7"/>
<rect x="44.25" y="193.47" width="4.7" height="63.13" fill="#141414"/>
<line x1="51.3" y1="241.9" x2="51.3" y2="247.7" stroke="#4a4a4a" stroke-width="0.75"/>
<line x1="50.4" y1="241.9" x2="52.2" y2="241.9" stroke="#333" stroke-width="0.7"/>
<rect x="49.25" y="248" width="4.1" height="8.6" fill="#cfcfcf" stroke="#8c8c8c" stroke-width="0.6"/>
<line x1="56" y1="168.21" x2="56" y2="190.57" stroke="#4a4a4a" stroke-width="0.75"/>
<line x1="55.1" y1="168.21" x2="56.9" y2="168.21" stroke="#333" stroke-width="0.7"/>
<rect x="53.95" y="190.87" width="4.1" height="65.73" fill="#525252" stroke="#353535" stroke-width="0.6"/>
<line x1="67.25" y1="170.18" x2="67.25" y2="175.56" stroke="#4a4a4a" stroke-width="0.75"/>
<line x1="66.35" y1="170.18" x2="68.15" y2="170.18" stroke="#333" stroke-width="0.7"/>
<rect x="64.9" y="175.56" width="4.7" height="81.04" fill="#141414"/>
<line x1="71.95" y1="236" x2="71.95" y2="241.9" stroke="#4a4a4a" stroke-width="0.75"/>
<line x1="71.05" y1="236" x2="72.85" y2="236" stroke="#333" stroke-width="0.7"/>
<rect x="69.9" y="242.2" width="4.1" height="14.4" fill="#cfcfcf" stroke="#8c8c8c" stroke-width="0.6"/>
<line x1="76.65" y1="160.76" x2="76.65" y2="177.42" stroke="#4a4a4a" stroke-width="0.75"/>
<line x1="75.75" y1="160.76" x2="77.55" y2="160.76" stroke="#333" stroke-width="0.7"/>
<rect x="74.6" y="177.72" width="4.1" height="78.88" fill="#525252" stroke="#353535" stroke-width="0.6"/>
<line x1="87.9" y1="158.07" x2="87.9" y2="160.35" stroke="#4a4a4a" stroke-width="0.75"/>
<line x1="87" y1="158.07" x2="88.8" y2="158.07" stroke="#333" stroke-width="0.7"/>
<rect x="85.55" y="160.35" width="4.7" height="96.25" fill="#141414"/>
<line x1="92.6" y1="236.31" x2="92.6" y2="242.11" stroke="#4a4a4a" stroke-width="0.75"/>
<line x1="91.7" y1="236.31" x2="93.5" y2="236.31" stroke="#333" stroke-width="0.7"/>
<rect x="90.55" y="242.41" width="4.1" height="14.19" fill="#cfcfcf" stroke="#8c8c8c" stroke-width="0.6"/>
<line x1="97.3" y1="160.35" x2="97.3" y2="170.18" stroke="#4a4a4a" stroke-width="0.75"/>
<line x1="96.4" y1="160.35" x2="98.2" y2="160.35" stroke="#333" stroke-width="0.7"/>
<rect x="95.25" y="170.48" width="4.1" height="86.12" fill="#525252" stroke="#353535" stroke-width="0.6"/>
<line x1="108.55" y1="159.31" x2="108.55" y2="168.83" stroke="#4a4a4a" stroke-width="0.75"/>
<line x1="107.65" y1="159.31" x2="109.45" y2="159.31" stroke="#333" stroke-width="0.7"/>
<rect x="106.2" y="168.83" width="4.7" height="87.77" fill="#141414"/>
<line x1="113.25" y1="236.31" x2="113.25" y2="240.25" stroke="#4a4a4a" stroke-width="0.75"/>
<line x1="112.35" y1="236.31" x2="114.15" y2="236.31" stroke="#333" stroke-width="0.7"/>
<rect x="111.2" y="240.55" width="4.1" height="16.05" fill="#cfcfcf" stroke="#8c8c8c" stroke-width="0.6"/>
<line x1="117.95" y1="154.14" x2="117.95" y2="166.87" stroke="#4a4a4a" stroke-width="0.75"/>
<line x1="117.05" y1="154.14" x2="118.85" y2="154.14" stroke="#333" stroke-width="0.7"/>
<rect x="115.9" y="167.17" width="4.1" height="89.43" fill="#525252" stroke="#353535" stroke-width="0.6"/>
<line x1="40.98" y1="256.6" x2="40.98" y2="258.1" stroke="#7a7a7a" stroke-width="0.5"/>
<line x1="61.62" y1="256.6" x2="61.62" y2="258.1" stroke="#7a7a7a" stroke-width="0.5"/>
<line x1="82.28" y1="256.6" x2="82.28" y2="258.1" stroke="#7a7a7a" stroke-width="0.5"/>
<line x1="102.93" y1="256.6" x2="102.93" y2="258.1" stroke="#7a7a7a" stroke-width="0.5"/>
<line x1="124.3" y1="256.6" x2="124.3" y2="258.1" stroke="#7a7a7a" stroke-width="0.5"/>
<text x="30.65" y="265.6" font-size="5.4" text-anchor="middle" font-weight="bold" font-family="Liberation Serif" fill="#222"  textLength="8.7" lengthAdjust="spacingAndGlyphs" stroke="#222" stroke-width="0.22">Med</text>
<text x="51.3" y="265.6" font-size="5.4" text-anchor="middle" font-weight="bold" font-family="Liberation Serif" fill="#222"  textLength="12" lengthAdjust="spacingAndGlyphs" stroke="#222" stroke-width="0.22">20nM</text>
<text x="71.95" y="265.6" font-size="5.4" text-anchor="middle" font-weight="bold" font-family="Liberation Serif" fill="#222"  textLength="12" lengthAdjust="spacingAndGlyphs" stroke="#222" stroke-width="0.22">50nM</text>
<text x="92.6" y="265.6" font-size="5.4" text-anchor="middle" font-weight="bold" font-family="Liberation Serif" fill="#222"  textLength="12" lengthAdjust="spacingAndGlyphs" stroke="#222" stroke-width="0.22">80nM</text>
<text x="113.25" y="265.6" font-size="5.4" text-anchor="middle" font-weight="bold" font-family="Liberation Serif" fill="#222"  textLength="13.8" lengthAdjust="spacingAndGlyphs" stroke="#222" stroke-width="0.22">100nM</text>
<text x="0" y="0" font-size="4.4" text-anchor="middle" font-weight="bold" font-family="Liberation Sans" fill="#1a1a1a" textLength="26.5" lengthAdjust="spacingAndGlyphs" transform="translate(4,204) rotate(-90)">% apoptosis</text>
<line x1="151.2" y1="152.8" x2="151.2" y2="256.6" stroke="#7a7a7a" stroke-width="0.9"/>
<line x1="149.8" y1="256.6" x2="151.2" y2="256.6" stroke="#7a7a7a" stroke-width="0.6"/>
<text x="147.3" y="258.27" font-size="5.2" text-anchor="end" font-weight="bold" font-family="Liberation Serif" fill="#222"  stroke="#222" stroke-width="0.22">0</text>
<line x1="149.8" y1="246.25" x2="151.2" y2="246.25" stroke="#7a7a7a" stroke-width="0.6"/>
<text x="147.3" y="247.92" font-size="5.2" text-anchor="end" font-weight="bold" font-family="Liberation Serif" fill="#222"  stroke="#222" stroke-width="0.22">10</text>
<line x1="149.8" y1="235.9" x2="151.2" y2="235.9" stroke="#7a7a7a" stroke-width="0.6"/>
<text x="147.3" y="237.57" font-size="5.2" text-anchor="end" font-weight="bold" font-family="Liberation Serif" fill="#222"  stroke="#222" stroke-width="0.22">20</text>
<line x1="149.8" y1="225.55" x2="151.2" y2="225.55" stroke="#7a7a7a" stroke-width="0.6"/>
<text x="147.3" y="227.22" font-size="5.2" text-anchor="end" font-weight="bold" font-family="Liberation Serif" fill="#222"  stroke="#222" stroke-width="0.22">30</text>
<line x1="149.8" y1="215.2" x2="151.2" y2="215.2" stroke="#7a7a7a" stroke-width="0.6"/>
<text x="147.3" y="216.87" font-size="5.2" text-anchor="end" font-weight="bold" font-family="Liberation Serif" fill="#222"  stroke="#222" stroke-width="0.22">40</text>
<line x1="149.8" y1="204.85" x2="151.2" y2="204.85" stroke="#7a7a7a" stroke-width="0.6"/>
<text x="147.3" y="206.52" font-size="5.2" text-anchor="end" font-weight="bold" font-family="Liberation Serif" fill="#222"  stroke="#222" stroke-width="0.22">50</text>
<line x1="149.8" y1="194.5" x2="151.2" y2="194.5" stroke="#7a7a7a" stroke-width="0.6"/>
<text x="147.3" y="196.17" font-size="5.2" text-anchor="end" font-weight="bold" font-family="Liberation Serif" fill="#222"  stroke="#222" stroke-width="0.22">60</text>
<line x1="149.8" y1="184.15" x2="151.2" y2="184.15" stroke="#7a7a7a" stroke-width="0.6"/>
<text x="147.3" y="185.82" font-size="5.2" text-anchor="end" font-weight="bold" font-family="Liberation Serif" fill="#222"  stroke="#222" stroke-width="0.22">70</text>
<line x1="149.8" y1="173.8" x2="151.2" y2="173.8" stroke="#7a7a7a" stroke-width="0.6"/>
<text x="147.3" y="175.47" font-size="5.2" text-anchor="end" font-weight="bold" font-family="Liberation Serif" fill="#222"  stroke="#222" stroke-width="0.22">80</text>
<line x1="149.8" y1="163.45" x2="151.2" y2="163.45" stroke="#7a7a7a" stroke-width="0.6"/>
<text x="147.3" y="165.12" font-size="5.2" text-anchor="end" font-weight="bold" font-family="Liberation Serif" fill="#222"  stroke="#222" stroke-width="0.22">90</text>
<line x1="149.8" y1="153.1" x2="151.2" y2="153.1" stroke="#7a7a7a" stroke-width="0.6"/>
<text x="147.3" y="154.77" font-size="5.2" text-anchor="end" font-weight="bold" font-family="Liberation Serif" fill="#222"  stroke="#222" stroke-width="0.22">100</text>
<line x1="151.2" y1="256.6" x2="255" y2="256.6" stroke="#7a7a7a" stroke-width="0.9"/>
<rect x="154.5" y="254.74" width="4.7" height="1.86" fill="#141414"/>
<rect x="159.5" y="255.66" width="4.1" height="0.94" fill="#cfcfcf" stroke="#8c8c8c" stroke-width="0.6"/>
<rect x="164.2" y="254.83" width="4.1" height="1.77" fill="#525252" stroke="#353535" stroke-width="0.6"/>
<line x1="177.5" y1="154.65" x2="177.5" y2="164.28" stroke="#4a4a4a" stroke-width="0.75"/>
<line x1="176.6" y1="154.65" x2="178.4" y2="154.65" stroke="#333" stroke-width="0.7"/>
<rect x="175.15" y="164.28" width="4.7" height="92.32" fill="#141414"/>
<line x1="182.2" y1="237.97" x2="182.2" y2="243.25" stroke="#4a4a4a" stroke-width="0.75"/>
<line x1="181.3" y1="237.97" x2="183.1" y2="237.97" stroke="#333" stroke-width="0.7"/>
<rect x="180.15" y="243.55" width="4.1" height="13.05" fill="#cfcfcf" stroke="#8c8c8c" stroke-width="0.6"/>
<line x1="186.9" y1="152.07" x2="186.9" y2="160.14" stroke="#4a4a4a" stroke-width="0.75"/>
<line x1="186" y1="152.07" x2="187.8" y2="152.07" stroke="#333" stroke-width="0.7"/>
<rect x="184.85" y="160.44" width="4.1" height="96.16" fill="#525252" stroke="#353535" stroke-width="0.6"/>
<line x1="198.15" y1="157.55" x2="198.15" y2="162" stroke="#4a4a4a" stroke-width="0.75"/>
<line x1="197.25" y1="157.55" x2="199.05" y2="157.55" stroke="#333" stroke-width="0.7"/>
<rect x="195.8" y="162" width="4.7" height="94.6" fill="#141414"/>
<line x1="202.85" y1="215.41" x2="202.85" y2="224.41" stroke="#4a4a4a" stroke-width="0.75"/>
<line x1="201.95" y1="215.41" x2="203.75" y2="215.41" stroke="#333" stroke-width="0.7"/>
<rect x="200.8" y="224.71" width="4.1" height="31.89" fill="#cfcfcf" stroke="#8c8c8c" stroke-width="0.6"/>
<line x1="207.55" y1="154.14" x2="207.55" y2="155.17" stroke="#4a4a4a" stroke-width="0.75"/>
<line x1="206.65" y1="154.14" x2="208.45" y2="154.14" stroke="#333" stroke-width="0.7"/>
<rect x="205.5" y="155.47" width="4.1" height="101.13" fill="#525252" stroke="#353535" stroke-width="0.6"/>
<line x1="218.8" y1="153.1" x2="218.8" y2="155.79" stroke="#4a4a4a" stroke-width="0.75"/>
<line x1="217.9" y1="153.1" x2="219.7" y2="153.1" stroke="#333" stroke-width="0.7"/>
<rect x="216.45" y="155.79" width="4.7" height="100.81" fill="#141414"/>
<line x1="223.5" y1="195.22" x2="223.5" y2="205.68" stroke="#4a4a4a" stroke-width="0.75"/>
<line x1="222.6" y1="195.22" x2="224.4" y2="195.22" stroke="#333" stroke-width="0.7"/>
<rect x="221.45" y="205.98" width="4.1" height="50.62" fill="#cfcfcf" stroke="#8c8c8c" stroke-width="0.6"/>
<rect x="226.15" y="154.44" width="4.1" height="102.16" fill="#525252" stroke="#353535" stroke-width="0.6"/>
<line x1="239.45" y1="154.14" x2="239.45" y2="155.17" stroke="#4a4a4a" stroke-width="0.75"/>
<line x1="238.55" y1="154.14" x2="240.35" y2="154.14" stroke="#333" stroke-width="0.7"/>
<rect x="237.1" y="155.17" width="4.7" height="101.43" fill="#141414"/>
<line x1="244.15" y1="202.47" x2="244.15" y2="209.3" stroke="#4a4a4a" stroke-width="0.75"/>
<line x1="243.25" y1="202.47" x2="245.05" y2="202.47" stroke="#333" stroke-width="0.7"/>
<rect x="242.1" y="209.6" width="4.1" height="47" fill="#cfcfcf" stroke="#8c8c8c" stroke-width="0.6"/>
<rect x="246.8" y="154.44" width="4.1" height="102.16" fill="#525252" stroke="#353535" stroke-width="0.6"/>
<line x1="171.88" y1="256.6" x2="171.88" y2="258.1" stroke="#7a7a7a" stroke-width="0.5"/>
<line x1="192.53" y1="256.6" x2="192.53" y2="258.1" stroke="#7a7a7a" stroke-width="0.5"/>
<line x1="213.18" y1="256.6" x2="213.18" y2="258.1" stroke="#7a7a7a" stroke-width="0.5"/>
<line x1="233.82" y1="256.6" x2="233.82" y2="258.1" stroke="#7a7a7a" stroke-width="0.5"/>
<line x1="255" y1="256.6" x2="255" y2="258.1" stroke="#7a7a7a" stroke-width="0.5"/>
<text x="161.55" y="265.6" font-size="5.4" text-anchor="middle" font-weight="bold" font-family="Liberation Serif" fill="#222"  textLength="8.7" lengthAdjust="spacingAndGlyphs" stroke="#222" stroke-width="0.22">Med</text>
<text x="182.2" y="265.6" font-size="5.4" text-anchor="middle" font-weight="bold" font-family="Liberation Serif" fill="#222"  textLength="12" lengthAdjust="spacingAndGlyphs" stroke="#222" stroke-width="0.22">20nM</text>
<text x="202.85" y="265.6" font-size="5.4" text-anchor="middle" font-weight="bold" font-family="Liberation Serif" fill="#222"  textLength="12" lengthAdjust="spacingAndGlyphs" stroke="#222" stroke-width="0.22">50nM</text>
<text x="223.5" y="265.6" font-size="5.4" text-anchor="middle" font-weight="bold" font-family="Liberation Serif" fill="#222"  textLength="12" lengthAdjust="spacingAndGlyphs" stroke="#222" stroke-width="0.22">80nM</text>
<text x="244.15" y="265.6" font-size="5.4" text-anchor="middle" font-weight="bold" font-family="Liberation Serif" fill="#222"  textLength="13.8" lengthAdjust="spacingAndGlyphs" stroke="#222" stroke-width="0.22">100nM</text>
<text x="0" y="0" font-size="4.4" text-anchor="middle" font-weight="bold" font-family="Liberation Sans" fill="#1a1a1a" textLength="26.5" lengthAdjust="spacingAndGlyphs" transform="translate(135.8,204) rotate(-90)">% apoptosis</text>
<line x1="291.4" y1="171.5" x2="291.4" y2="255.6" stroke="#7a7a7a" stroke-width="0.9"/>
<line x1="290" y1="255.6" x2="291.4" y2="255.6" stroke="#7a7a7a" stroke-width="0.6"/>
<text x="288.1" y="257" font-size="5" text-anchor="end" font-weight="bold" font-family="Liberation Serif" fill="#222"  stroke="#222" stroke-width="0.22">0</text>
<line x1="290" y1="247.22" x2="291.4" y2="247.22" stroke="#7a7a7a" stroke-width="0.6"/>
<text x="288.1" y="248.62" font-size="5" text-anchor="end" font-weight="bold" font-family="Liberation Serif" fill="#222"  stroke="#222" stroke-width="0.22">10</text>
<line x1="290" y1="238.84" x2="291.4" y2="238.84" stroke="#7a7a7a" stroke-width="0.6"/>
<text x="288.1" y="240.24" font-size="5" text-anchor="end" font-weight="bold" font-family="Liberation Serif" fill="#222"  stroke="#222" stroke-width="0.22">20</text>
<line x1="290" y1="230.46" x2="291.4" y2="230.46" stroke="#7a7a7a" stroke-width="0.6"/>
<text x="288.1" y="231.86" font-size="5" text-anchor="end" font-weight="bold" font-family="Liberation Serif" fill="#222"  stroke="#222" stroke-width="0.22">30</text>
<line x1="290" y1="222.08" x2="291.4" y2="222.08" stroke="#7a7a7a" stroke-width="0.6"/>
<text x="288.1" y="223.48" font-size="5" text-anchor="end" font-weight="bold" font-family="Liberation Serif" fill="#222"  stroke="#222" stroke-width="0.22">40</text>
<line x1="290" y1="213.7" x2="291.4" y2="213.7" stroke="#7a7a7a" stroke-width="0.6"/>
<text x="288.1" y="215.1" font-size="5" text-anchor="end" font-weight="bold" font-family="Liberation Serif" fill="#222"  stroke="#222" stroke-width="0.22">50</text>
<line x1="290" y1="205.32" x2="291.4" y2="205.32" stroke="#7a7a7a" stroke-width="0.6"/>
<text x="288.1" y="206.72" font-size="5" text-anchor="end" font-weight="bold" font-family="Liberation Serif" fill="#222"  stroke="#222" stroke-width="0.22">60</text>
<line x1="290" y1="196.94" x2="291.4" y2="196.94" stroke="#7a7a7a" stroke-width="0.6"/>
<text x="288.1" y="198.34" font-size="5" text-anchor="end" font-weight="bold" font-family="Liberation Serif" fill="#222"  stroke="#222" stroke-width="0.22">70</text>
<line x1="290" y1="188.56" x2="291.4" y2="188.56" stroke="#7a7a7a" stroke-width="0.6"/>
<text x="288.1" y="189.96" font-size="5" text-anchor="end" font-weight="bold" font-family="Liberation Serif" fill="#222"  stroke="#222" stroke-width="0.22">80</text>
<line x1="290" y1="180.18" x2="291.4" y2="180.18" stroke="#7a7a7a" stroke-width="0.6"/>
<text x="288.1" y="181.58" font-size="5" text-anchor="end" font-weight="bold" font-family="Liberation Serif" fill="#222"  stroke="#222" stroke-width="0.22">90</text>
<line x1="290" y1="171.8" x2="291.4" y2="171.8" stroke="#7a7a7a" stroke-width="0.6"/>
<text x="288.1" y="173.2" font-size="5" text-anchor="end" font-weight="bold" font-family="Liberation Serif" fill="#222"  stroke="#222" stroke-width="0.22">100</text>
<line x1="291.4" y1="255.6" x2="388" y2="255.6" stroke="#7a7a7a" stroke-width="0.9"/>
<rect x="294.9" y="253.59" width="4.4" height="2.01" fill="#141414"/>
<line x1="301.5" y1="250.57" x2="301.5" y2="252.5" stroke="#4a4a4a" stroke-width="0.75"/>
<line x1="300.6" y1="250.57" x2="302.4" y2="250.57" stroke="#333" stroke-width="0.7"/>
<rect x="299.6" y="252.8" width="3.8" height="2.8" fill="#cfcfcf" stroke="#8c8c8c" stroke-width="0.6"/>
<line x1="316.2" y1="171.8" x2="316.2" y2="173.56" stroke="#4a4a4a" stroke-width="0.75"/>
<line x1="315.3" y1="171.8" x2="317.1" y2="171.8" stroke="#333" stroke-width="0.7"/>
<rect x="314" y="173.56" width="4.4" height="82.04" fill="#141414"/>
<line x1="320.6" y1="219.82" x2="320.6" y2="227.69" stroke="#4a4a4a" stroke-width="0.75"/>
<line x1="319.7" y1="219.82" x2="321.5" y2="219.82" stroke="#333" stroke-width="0.7"/>
<rect x="318.7" y="227.99" width="3.8" height="27.61" fill="#cfcfcf" stroke="#8c8c8c" stroke-width="0.6"/>
<line x1="335.3" y1="173.48" x2="335.3" y2="174.57" stroke="#4a4a4a" stroke-width="0.75"/>
<line x1="334.4" y1="173.48" x2="336.2" y2="173.48" stroke="#333" stroke-width="0.7"/>
<rect x="333.1" y="174.57" width="4.4" height="81.03" fill="#141414"/>
<line x1="339.7" y1="193.09" x2="339.7" y2="211.19" stroke="#4a4a4a" stroke-width="0.75"/>
<line x1="338.8" y1="193.09" x2="340.6" y2="193.09" stroke="#333" stroke-width="0.7"/>
<rect x="337.8" y="211.49" width="3.8" height="44.11" fill="#cfcfcf" stroke="#8c8c8c" stroke-width="0.6"/>
<line x1="354.4" y1="171.8" x2="354.4" y2="173.56" stroke="#4a4a4a" stroke-width="0.75"/>
<line x1="353.5" y1="171.8" x2="355.3" y2="171.8" stroke="#333" stroke-width="0.7"/>
<rect x="352.2" y="173.56" width="4.4" height="82.04" fill="#141414"/>
<line x1="358.8" y1="187.81" x2="358.8" y2="202.47" stroke="#4a4a4a" stroke-width="0.75"/>
<line x1="357.9" y1="187.81" x2="359.7" y2="187.81" stroke="#333" stroke-width="0.7"/>
<rect x="356.9" y="202.77" width="3.8" height="52.83" fill="#cfcfcf" stroke="#8c8c8c" stroke-width="0.6"/>
<line x1="373.5" y1="171.8" x2="373.5" y2="173.56" stroke="#4a4a4a" stroke-width="0.75"/>
<line x1="372.6" y1="171.8" x2="374.4" y2="171.8" stroke="#333" stroke-width="0.7"/>
<rect x="371.3" y="173.56" width="4.4" height="82.04" fill="#141414"/>
<line x1="377.9" y1="174.57" x2="377.9" y2="191.24" stroke="#4a4a4a" stroke-width="0.75"/>
<line x1="377" y1="174.57" x2="378.8" y2="174.57" stroke="#333" stroke-width="0.7"/>
<rect x="376" y="191.54" width="3.8" height="64.06" fill="#cfcfcf" stroke="#8c8c8c" stroke-width="0.6"/>
<line x1="308.85" y1="255.6" x2="308.85" y2="257.1" stroke="#7a7a7a" stroke-width="0.5"/>
<line x1="327.95" y1="255.6" x2="327.95" y2="257.1" stroke="#7a7a7a" stroke-width="0.5"/>
<line x1="347.05" y1="255.6" x2="347.05" y2="257.1" stroke="#7a7a7a" stroke-width="0.5"/>
<line x1="366.15" y1="255.6" x2="366.15" y2="257.1" stroke="#7a7a7a" stroke-width="0.5"/>
<line x1="388" y1="255.6" x2="388" y2="257.1" stroke="#7a7a7a" stroke-width="0.5"/>
<text x="301.1" y="265.2" font-size="4.8" text-anchor="middle" font-weight="bold" font-family="Liberation Serif" fill="#222"  textLength="8.8" lengthAdjust="spacingAndGlyphs" stroke="#222" stroke-width="0.22">Med</text>
<text x="320.2" y="265.2" font-size="4.8" text-anchor="middle" font-weight="bold" font-family="Liberation Serif" fill="#222"  textLength="10.4" lengthAdjust="spacingAndGlyphs" stroke="#222" stroke-width="0.22">20nM</text>
<text x="339.3" y="265.2" font-size="4.8" text-anchor="middle" font-weight="bold" font-family="Liberation Serif" fill="#222"  textLength="10.4" lengthAdjust="spacingAndGlyphs" stroke="#222" stroke-width="0.22">80nM</text>
<text x="358.4" y="265.2" font-size="4.8" text-anchor="middle" font-weight="bold" font-family="Liberation Serif" fill="#222"  textLength="14" lengthAdjust="spacingAndGlyphs" stroke="#222" stroke-width="0.22">100nM</text>
<text x="377.5" y="265.2" font-size="4.8" text-anchor="middle" font-weight="bold" font-family="Liberation Serif" fill="#222"  textLength="14" lengthAdjust="spacingAndGlyphs" stroke="#222" stroke-width="0.22">200nM</text>
<text x="0" y="0" font-size="4.4" text-anchor="middle" font-weight="bold" font-family="Liberation Sans" fill="#1a1a1a" textLength="24.5" lengthAdjust="spacingAndGlyphs" transform="translate(276,212.7) rotate(-90)">% apoptosis</text>
<line x1="415.8" y1="169" x2="415.8" y2="255.8" stroke="#7a7a7a" stroke-width="0.9"/>
<line x1="414.4" y1="255.8" x2="415.8" y2="255.8" stroke="#7a7a7a" stroke-width="0.6"/>
<text x="412.5" y="257.2" font-size="5" text-anchor="end" font-weight="bold" font-family="Liberation Serif" fill="#222"  stroke="#222" stroke-width="0.22">0</text>
<line x1="414.4" y1="247.15" x2="415.8" y2="247.15" stroke="#7a7a7a" stroke-width="0.6"/>
<text x="412.5" y="248.55" font-size="5" text-anchor="end" font-weight="bold" font-family="Liberation Serif" fill="#222"  stroke="#222" stroke-width="0.22">10</text>
<line x1="414.4" y1="238.5" x2="415.8" y2="238.5" stroke="#7a7a7a" stroke-width="0.6"/>
<text x="412.5" y="239.9" font-size="5" text-anchor="end" font-weight="bold" font-family="Liberation Serif" fill="#222"  stroke="#222" stroke-width="0.22">20</text>
<line x1="414.4" y1="229.85" x2="415.8" y2="229.85" stroke="#7a7a7a" stroke-width="0.6"/>
<text x="412.5" y="231.25" font-size="5" text-anchor="end" font-weight="bold" font-family="Liberation Serif" fill="#222"  stroke="#222" stroke-width="0.22">30</text>
<line x1="414.4" y1="221.2" x2="415.8" y2="221.2" stroke="#7a7a7a" stroke-width="0.6"/>
<text x="412.5" y="222.6" font-size="5" text-anchor="end" font-weight="bold" font-family="Liberation Serif" fill="#222"  stroke="#222" stroke-width="0.22">40</text>
<line x1="414.4" y1="212.55" x2="415.8" y2="212.55" stroke="#7a7a7a" stroke-width="0.6"/>
<text x="412.5" y="213.95" font-size="5" text-anchor="end" font-weight="bold" font-family="Liberation Serif" fill="#222"  stroke="#222" stroke-width="0.22">50</text>
<line x1="414.4" y1="203.9" x2="415.8" y2="203.9" stroke="#7a7a7a" stroke-width="0.6"/>
<text x="412.5" y="205.3" font-size="5" text-anchor="end" font-weight="bold" font-family="Liberation Serif" fill="#222"  stroke="#222" stroke-width="0.22">60</text>
<line x1="414.4" y1="195.25" x2="415.8" y2="195.25" stroke="#7a7a7a" stroke-width="0.6"/>
<text x="412.5" y="196.65" font-size="5" text-anchor="end" font-weight="bold" font-family="Liberation Serif" fill="#222"  stroke="#222" stroke-width="0.22">70</text>
<line x1="414.4" y1="186.6" x2="415.8" y2="186.6" stroke="#7a7a7a" stroke-width="0.6"/>
<text x="412.5" y="188" font-size="5" text-anchor="end" font-weight="bold" font-family="Liberation Serif" fill="#222"  stroke="#222" stroke-width="0.22">80</text>
<line x1="414.4" y1="177.95" x2="415.8" y2="177.95" stroke="#7a7a7a" stroke-width="0.6"/>
<text x="412.5" y="179.35" font-size="5" text-anchor="end" font-weight="bold" font-family="Liberation Serif" fill="#222"  stroke="#222" stroke-width="0.22">90</text>
<line x1="414.4" y1="169.3" x2="415.8" y2="169.3" stroke="#7a7a7a" stroke-width="0.6"/>
<text x="412.5" y="170.7" font-size="5" text-anchor="end" font-weight="bold" font-family="Liberation Serif" fill="#222"  stroke="#222" stroke-width="0.22">100</text>
<line x1="415.8" y1="255.8" x2="516.8" y2="255.8" stroke="#7a7a7a" stroke-width="0.9"/>
<line x1="420.8" y1="247.15" x2="420.8" y2="250.96" stroke="#4a4a4a" stroke-width="0.75"/>
<line x1="419.9" y1="247.15" x2="421.7" y2="247.15" stroke="#333" stroke-width="0.7"/>
<rect x="418.8" y="250.96" width="4" height="4.84" fill="#141414"/>
<line x1="424.8" y1="250.96" x2="424.8" y2="252.95" stroke="#4a4a4a" stroke-width="0.75"/>
<line x1="423.9" y1="250.96" x2="425.7" y2="250.96" stroke="#333" stroke-width="0.7"/>
<rect x="423.1" y="253.25" width="3.4" height="2.55" fill="#cfcfcf" stroke="#8c8c8c" stroke-width="0.6"/>
<line x1="437.8" y1="238.5" x2="437.8" y2="239.88" stroke="#4a4a4a" stroke-width="0.75"/>
<line x1="436.9" y1="238.5" x2="438.7" y2="238.5" stroke="#333" stroke-width="0.7"/>
<rect x="435.8" y="239.88" width="4" height="15.92" fill="#141414"/>
<line x1="441.8" y1="247.15" x2="441.8" y2="249.05" stroke="#4a4a4a" stroke-width="0.75"/>
<line x1="440.9" y1="247.15" x2="442.7" y2="247.15" stroke="#333" stroke-width="0.7"/>
<rect x="440.1" y="249.35" width="3.4" height="6.45" fill="#cfcfcf" stroke="#8c8c8c" stroke-width="0.6"/>
<line x1="454.8" y1="169.3" x2="454.8" y2="170.6" stroke="#4a4a4a" stroke-width="0.75"/>
<line x1="453.9" y1="169.3" x2="455.7" y2="169.3" stroke="#333" stroke-width="0.7"/>
<rect x="452.8" y="170.6" width="4" height="85.2" fill="#141414"/>
<line x1="458.8" y1="210.82" x2="458.8" y2="212.55" stroke="#4a4a4a" stroke-width="0.75"/>
<line x1="457.9" y1="210.82" x2="459.7" y2="210.82" stroke="#333" stroke-width="0.7"/>
<rect x="457.1" y="212.85" width="3.4" height="42.95" fill="#cfcfcf" stroke="#8c8c8c" stroke-width="0.6"/>
<line x1="471.8" y1="168.69" x2="471.8" y2="173.19" stroke="#4a4a4a" stroke-width="0.75"/>
<line x1="470.9" y1="168.69" x2="472.7" y2="168.69" stroke="#333" stroke-width="0.7"/>
<rect x="469.8" y="173.19" width="4" height="82.61" fill="#141414"/>
<line x1="475.8" y1="195.68" x2="475.8" y2="197.24" stroke="#4a4a4a" stroke-width="0.75"/>
<line x1="474.9" y1="195.68" x2="476.7" y2="195.68" stroke="#333" stroke-width="0.7"/>
<rect x="474.1" y="197.54" width="3.4" height="58.26" fill="#cfcfcf" stroke="#8c8c8c" stroke-width="0.6"/>
<line x1="488.8" y1="169.3" x2="488.8" y2="172.24" stroke="#4a4a4a" stroke-width="0.75"/>
<line x1="487.9" y1="169.3" x2="489.7" y2="169.3" stroke="#333" stroke-width="0.7"/>
<rect x="486.8" y="172.24" width="4" height="83.56" fill="#141414"/>
<line x1="492.8" y1="185.04" x2="492.8" y2="188.07" stroke="#4a4a4a" stroke-width="0.75"/>
<line x1="491.9" y1="185.04" x2="493.7" y2="185.04" stroke="#333" stroke-width="0.7"/>
<rect x="491.1" y="188.37" width="3.4" height="67.43" fill="#cfcfcf" stroke="#8c8c8c" stroke-width="0.6"/>
<line x1="505.8" y1="169.3" x2="505.8" y2="172.59" stroke="#4a4a4a" stroke-width="0.75"/>
<line x1="504.9" y1="169.3" x2="506.7" y2="169.3" stroke="#333" stroke-width="0.7"/>
<rect x="503.8" y="172.59" width="4" height="83.21" fill="#141414"/>
<line x1="509.8" y1="171.2" x2="509.8" y2="187.98" stroke="#4a4a4a" stroke-width="0.75"/>
<line x1="508.9" y1="171.2" x2="510.7" y2="171.2" stroke="#333" stroke-width="0.7"/>
<rect x="508.1" y="188.28" width="3.4" height="67.52" fill="#cfcfcf" stroke="#8c8c8c" stroke-width="0.6"/>
<line x1="431.3" y1="255.8" x2="431.3" y2="257.3" stroke="#7a7a7a" stroke-width="0.5"/>
<line x1="448.3" y1="255.8" x2="448.3" y2="257.3" stroke="#7a7a7a" stroke-width="0.5"/>
<line x1="465.3" y1="255.8" x2="465.3" y2="257.3" stroke="#7a7a7a" stroke-width="0.5"/>
<line x1="482.3" y1="255.8" x2="482.3" y2="257.3" stroke="#7a7a7a" stroke-width="0.5"/>
<line x1="499.3" y1="255.8" x2="499.3" y2="257.3" stroke="#7a7a7a" stroke-width="0.5"/>
<line x1="516.8" y1="255.8" x2="516.8" y2="257.3" stroke="#7a7a7a" stroke-width="0.5"/>
<text x="424.6" y="265" font-size="4.8" text-anchor="middle" font-weight="bold" font-family="Liberation Serif" fill="#222"  textLength="8.8" lengthAdjust="spacingAndGlyphs" stroke="#222" stroke-width="0.22">Med</text>
<text x="441.6" y="265" font-size="4.8" text-anchor="middle" font-weight="bold" font-family="Liberation Serif" fill="#222"  textLength="14" lengthAdjust="spacingAndGlyphs" stroke="#222" stroke-width="0.22">200nM</text>
<text x="458.6" y="265" font-size="4.8" text-anchor="middle" font-weight="bold" font-family="Liberation Serif" fill="#222"  textLength="14" lengthAdjust="spacingAndGlyphs" stroke="#222" stroke-width="0.22">300nM</text>
<text x="475.6" y="265" font-size="4.8" text-anchor="middle" font-weight="bold" font-family="Liberation Serif" fill="#222"  textLength="14" lengthAdjust="spacingAndGlyphs" stroke="#222" stroke-width="0.22">500nM</text>
<text x="492.6" y="265" font-size="4.8" text-anchor="middle" font-weight="bold" font-family="Liberation Serif" fill="#222"  textLength="14" lengthAdjust="spacingAndGlyphs" stroke="#222" stroke-width="0.22">750nM</text>
<text x="509.6" y="265" font-size="4.8" text-anchor="middle" font-weight="bold" font-family="Liberation Serif" fill="#222"  textLength="8.8" lengthAdjust="spacingAndGlyphs" stroke="#222" stroke-width="0.22">1&#181;M</text>
<text x="0" y="0" font-size="4.4" text-anchor="middle" font-weight="bold" font-family="Liberation Sans" fill="#1a1a1a" textLength="27" lengthAdjust="spacingAndGlyphs" transform="translate(398.9,212.6) rotate(-90)">% apoptosis</text>
<text x="62.6" y="7.8" font-size="8.6" text-anchor="middle" font-weight="bold" font-family="Liberation Serif" fill="#222"  stroke="#222" stroke-width="0.08">24h PKC412</text>
<text x="194.7" y="7.7" font-size="8.6" text-anchor="middle" font-weight="bold" font-family="Liberation Serif" fill="#222"  stroke="#222" stroke-width="0.08">48h PKC412</text>
<text x="334.7" y="153.6" font-size="8.6" text-anchor="middle" font-weight="bold" font-family="Liberation Serif" fill="#222"  stroke="#222" stroke-width="0.08">48h K252a</text>
<text x="460" y="153.4" font-size="8.6" text-anchor="middle" font-weight="bold" font-family="Liberation Serif" fill="#222"  stroke="#222" stroke-width="0.08">48h SU5614</text>
<text x="2.2" y="9.2" font-size="10.9" text-anchor="start" font-weight="bold" font-family="Liberation Sans" fill="#222"  stroke="#222" stroke-width="0.35">A</text>
<text x="274.6" y="9.3" font-size="11" text-anchor="start" font-weight="bold" font-family="Liberation Sans" fill="#222"  stroke="#222" stroke-width="0.35">B</text>
<text x="1.2" y="144.2" font-size="11.2" text-anchor="start" font-weight="bold" font-family="Liberation Sans" fill="#222"  stroke="#222" stroke-width="0.35">C</text>
<text x="274.5" y="144.5" font-size="11" text-anchor="start" font-weight="bold" font-family="Liberation Sans" fill="#222"  stroke="#222" stroke-width="0.35">D</text></g></svg>
</body></html>
